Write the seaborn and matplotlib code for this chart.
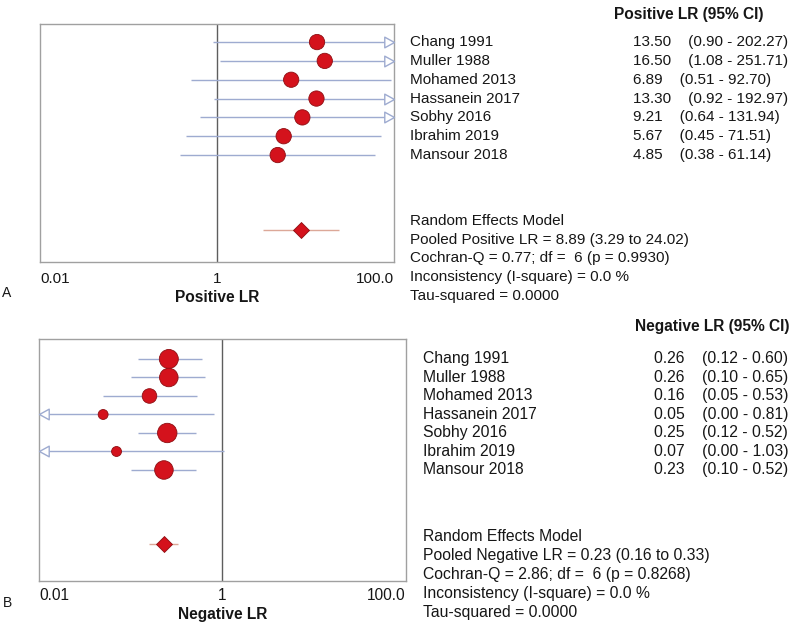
import numpy as np
import pandas as pd
import matplotlib
matplotlib.use("Agg")
import matplotlib.pyplot as plt
import seaborn as sns
from matplotlib.path import Path
from matplotlib.ticker import NullLocator
from matplotlib.transforms import blended_transform_factory

# ---------------- data ----------------
studies = ["Chang 1991", "Muller 1988", "Mohamed 2013", "Hassanein 2017",
           "Sobhy 2016", "Ibrahim 2019", "Mansour 2018"]

pos_lr = [13.50, 16.50, 6.89, 13.30, 9.21, 5.67, 4.85]
pos_lo = [0.90, 1.08, 0.51, 0.92, 0.64, 0.45, 0.38]
pos_hi = [202.27, 251.71, 92.70, 192.97, 131.94, 71.51, 61.14]
pos_w = [14.3, 14.3, 14.2, 14.3, 14.3, 14.3, 14.3]
pos_pooled = [8.89, 3.29, 24.02]
pos_stats = ["Random Effects Model",
             "Pooled Positive LR = 8.89 (3.29 to 24.02)",
             "Cochran-Q = 0.77; df =  6 (p = 0.9930)",
             "Inconsistency (I-square) = 0.0 %",
             "Tau-squared = 0.0000"]

neg_lr = [0.26, 0.26, 0.16, 0.05, 0.25, 0.07, 0.23]
neg_lo = [0.12, 0.10, 0.05, 0.00, 0.12, 0.00, 0.10]
neg_hi = [0.60, 0.65, 0.53, 0.81, 0.52, 1.03, 0.52]
neg_w = [22, 21, 13, 6, 23, 6, 21]
neg_pooled = [0.23, 0.16, 0.33]
neg_stats = ["Random Effects Model",
             "Pooled Negative LR = 0.23 (0.16 to 0.33)",
             "Cochran-Q = 2.86; df =  6 (p = 0.8268)",
             "Inconsistency (I-square) = 0.0 %",
             "Tau-squared = 0.0000"]

tick_vals = [0.01, 1, 100]
tick_labels = ["0.01", "1", "100.0"]

# ---------------- style ----------------
sns.set_style("white")
plt.rcParams["font.family"] = ["Liberation Sans", "DejaVu Sans"]

RED = "#d4121c"
RED_EDGE = "#8e0e12"
CI_COL = "#9eabd0"
POOL_CI = "#dca898"
TXT = "#161616"

fig = plt.figure(figsize=(8, 6.25), dpi=100)
W, H = 800, 625


def px_ax(l, t, r, b):
    return fig.add_axes([l / W, 1 - b / H, (r - l) / W, (b - t) / H])


right_tip = Path([(0, 0), (-1, 0.55), (-1, -0.55), (0, 0)],
                 [Path.MOVETO, Path.LINETO, Path.LINETO, Path.CLOSEPOLY])
left_tip = Path([(0, 0), (1, 0.55), (1, -0.55), (0, 0)],
                [Path.MOVETO, Path.LINETO, Path.LINETO, Path.CLOSEPOLY])


def panel(ax, lr, lo, hi, w, pooled, ylim, xlabel, fs, pad):
    xmin, xmax = tick_vals[0], tick_vals[-1]
    rows = np.arange(len(lr))
    df = pd.DataFrame({"lr": lr, "lo": lo, "hi": hi, "w": w, "row": rows})
    ax.set_xscale("log")
    ax.axvline(1, color="#5e5e5e", lw=1.0, zorder=1)
    ax.hlines(df["row"], np.clip(df["lo"], xmin, xmax), np.clip(df["hi"], xmin, xmax),
              color=CI_COL, lw=1.0, zorder=2)
    for _, r in df.iterrows():
        if r["hi"] > xmax:
            ax.plot([xmax], [r["row"]], marker=right_tip, ms=14, mfc="white",
                    mec=CI_COL, mew=1.0, clip_on=False, zorder=4)
        if r["lo"] < xmin:
            ax.plot([xmin], [r["row"]], marker=left_tip, ms=14, mfc="white",
                    mec=CI_COL, mew=1.0, clip_on=False, zorder=4)
    sns.scatterplot(data=df, x="lr", y="row", size="w", sizes=(0, 255),
                    size_norm=(0, 30), color=RED, edgecolor=RED_EDGE,
                    linewidth=0.6, legend=False, ax=ax, zorder=5)
    prow = 10
    ax.hlines([prow], pooled[1], pooled[2], color=POOL_CI, lw=1.0, zorder=2)
    pdf = pd.DataFrame({"lr": [pooled[0]], "row": [prow]})
    sns.scatterplot(data=pdf, x="lr", y="row", marker="D", s=66, color=RED,
                    edgecolor=RED_EDGE, linewidth=0.6, legend=False, ax=ax, zorder=5)
    ax.set_xlim(xmin, xmax)
    ax.set_ylim(*ylim)
    ax.set_yticks([])
    ax.set_ylabel("")
    ax.xaxis.set_minor_locator(NullLocator())
    ax.set_xticks(tick_vals)
    ax.set_xticklabels(tick_labels)
    labs = ax.get_xticklabels()
    labs[0].set_horizontalalignment("left")
    labs[-1].set_horizontalalignment("right")
    ax.tick_params(axis="x", length=0, pad=pad, labelsize=fs, labelcolor=TXT)
    ax.set_xlabel(xlabel, fontsize=11.2, fontweight="bold", color=TXT, labelpad=3)
    for s in ax.spines.values():
        s.set_color("#a0a0a0")
        s.set_linewidth(1.0)


def side_text(ax, header, hx, hy, names_x, val_x, lr, lo, hi, stats, sy, sstep, fs):
    tr = blended_transform_factory(fig.transFigure, ax.transData)
    ax.text(hx / W, hy, header, transform=tr, fontsize=11.2, fontweight="bold",
            color=TXT, ha="left", va="center", clip_on=False)
    for i, name in enumerate(studies):
        ax.text(names_x / W, i, name, transform=tr, fontsize=fs, color=TXT,
                ha="left", va="center", clip_on=False)
        ax.text(val_x / W, i, f"{lr[i]:.2f}    ({lo[i]:.2f} - {hi[i]:.2f})",
                transform=tr, fontsize=fs, color=TXT, ha="left", va="center",
                clip_on=False)
    for k, line in enumerate(stats):
        ax.text(names_x / W, sy + k * sstep, line, transform=tr, fontsize=fs,
                color=TXT, ha="left", va="center", clip_on=False)


# Panel A
axA = px_ax(40, 24, 394, 262)
panel(axA, pos_lr, pos_lo, pos_hi, pos_w, pos_pooled, (11.68, -0.96),
      "Positive LR", 11.0, 7)
side_text(axA, "Positive LR (95% CI)", 614, -1.45, 410, 633,
          pos_lr, pos_lo, pos_hi, pos_stats, 9.5, 0.99, 11.0)
fig.text(7 / W, 1 - 293 / H, "A", fontsize=10, color=TXT, ha="center", va="center")

# Panel B
axB = px_ax(39, 339, 406, 581)
panel(axB, neg_lr, neg_lo, neg_hi, neg_w, neg_pooled, (12.0, -1.08),
      "Negative LR", 11.2, 5)
side_text(axB, "Negative LR (95% CI)", 635, -1.73, 423, 654,
          neg_lr, neg_lo, neg_hi, neg_stats, 9.62, 1.015, 11.3)
fig.text(8 / W, 1 - 603 / H, "B", fontsize=10, color=TXT, ha="center", va="center")

fig.savefig("out.png", dpi=100)
